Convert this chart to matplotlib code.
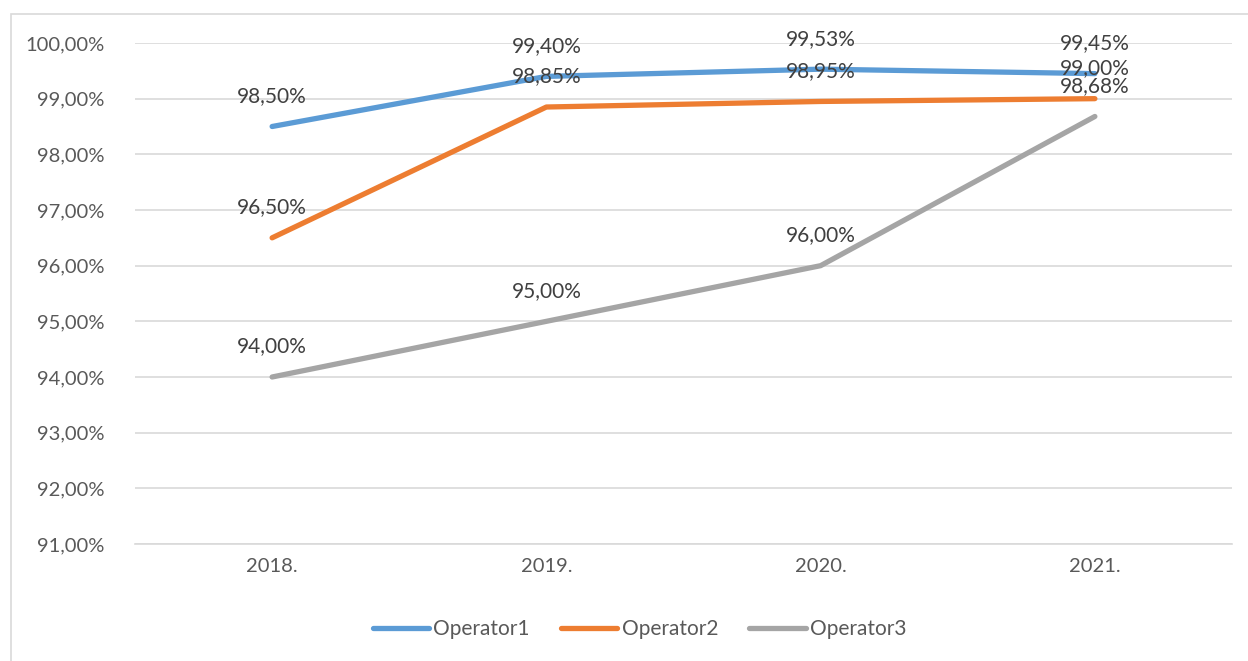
import matplotlib.pyplot as plt
from matplotlib.patches import Rectangle
from matplotlib.ticker import FuncFormatter

plt.rcParams['font.family'] = ['Lato', 'DejaVu Sans']

years = ['2018.', '2019.', '2020.', '2021.']
operator1 = [98.50, 99.40, 99.53, 99.45]
operator2 = [96.50, 98.85, 98.95, 99.00]
operator3 = [94.00, 95.00, 96.00, 98.68]
names = ['Operator1', 'Operator2', 'Operator3']
colors = ['#5B9BD5', '#ED7D31', '#A5A5A5']

def pct(v):
    return ('%.2f%%' % v).replace('.', ',')

fig = plt.figure(figsize=(12.48, 6.61), dpi=100)
ax = fig.add_axes([135/1248, 117/661, (1232-135)/1248, (544-43)/661])

x = list(range(len(years)))
for vals, name, c in zip([operator1, operator2, operator3], names, colors):
    ax.plot(x, vals, color=c, lw=3.8, solid_capstyle='round', label=name, zorder=3)
    for xi, v in zip(x, vals):
        ax.annotate(pct(v), (xi, v), xytext=(0, 22), textcoords='offset points',
                    ha='center', va='center', fontsize=15, color='#404040', zorder=4)

ax.set_xlim(-0.5, 3.5)
ax.set_ylim(91, 100)
ax.set_yticks(range(91, 101))
ax.yaxis.set_major_formatter(FuncFormatter(lambda v, p: pct(v)))
ax.set_xticks(x)
ax.set_xticklabels(years)
ax.grid(axis='y', color='#D9D9D9', lw=1.2)
ax.set_axisbelow(True)
for s in ['top', 'right', 'left']:
    ax.spines[s].set_visible(False)
ax.spines['bottom'].set_color('#D9D9D9')
ax.spines['bottom'].set_linewidth(1.2)
ax.tick_params(length=0, labelsize=14.5, colors='#595959')
ax.tick_params(axis='y', pad=22)
ax.tick_params(axis='x', pad=10)

ax.legend(loc='center', bbox_to_anchor=(0.46, -0.17), ncol=3, frameon=False,
          fontsize=15, handlelength=2.7, handletextpad=0.2, columnspacing=1.5,
          labelcolor='#595959')

fig.add_artist(Rectangle((11/1248, -0.1), 1.2, 1 - 14/661 + 0.1, transform=fig.transFigure,
                         fill=False, edgecolor='#D9D9D9', lw=1.2))

plt.savefig('out.png', dpi=100)
